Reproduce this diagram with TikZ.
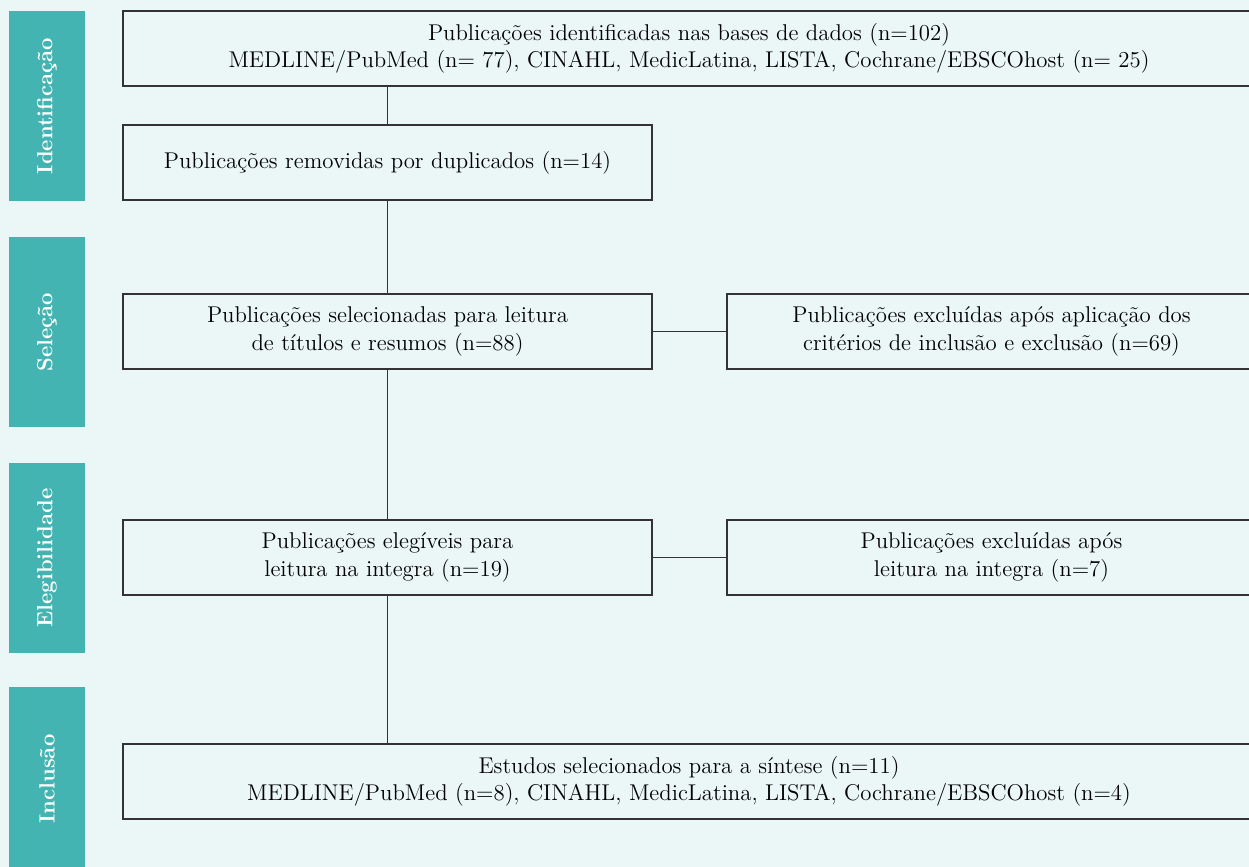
\documentclass[tikz,border=0pt]{standalone}
\usepackage{fontspec}
\definecolor{bgcol}{HTML}{EBF7F7}
\definecolor{barcol}{HTML}{43B4B1}
\definecolor{linecol}{HTML}{333333}
\tikzset{
  box/.style={draw=linecol, line width=0.7pt, align=center, inner sep=0pt,
    minimum height=37.5pt, font=\fontsize{11.4}{13.6}\selectfont},
  narrow/.style={box, minimum width=264.5pt},
  wide/.style={box, minimum width=566pt},
  phase/.style={fill=barcol, text=white, inner sep=0pt, minimum height=38pt,
    rotate=90, font=\bfseries\fontsize{11}{12}\selectfont},
  link/.style={draw=linecol, line width=0.7pt}
}
\begin{document}
\begin{tikzpicture}[x=0.5pt, y=-0.5pt]
  \useasboundingbox (0,0) rectangle (1249,867);
  \clip (0,0) rectangle (1249,867);
  \fill[bgcol] (0,0) rectangle (1249,867);

  % fases
  \node[phase, minimum width=95pt] (ident) at (47,106) {Identificação};
  \node[phase, minimum width=95pt] (selec) at (47,332) {Seleção};
  \node[phase, minimum width=95pt] (eleg) at (47,558) {Elegibilidade};
  \node[phase, minimum width=92pt] (incl) at (47,779) {Inclusão};

  % caixas
  \node[wide] (ident1) at (689,48.5)
    {Publicações identificadas nas bases de dados (n=102)\\
     MEDLINE/PubMed (n= 77), CINAHL, MedicLatina, LISTA, Cochrane/EBSCOhost (n= 25)};
  \node[narrow] (dupl) at (387.5,162.5)
    {Publicações removidas por duplicados (n=14)};
  \node[narrow] (selec1) at (387.5,331.5)
    {Publicações selecionadas para leitura\\ de títulos e resumos (n=88)};
  \node[narrow] (excl1) at (991.5,331.5)
    {Publicações excluídas após aplicação dos\\ critérios de inclusão e exclusão (n=69)};
  \node[narrow] (eleg1) at (387.5,557.5)
    {Publicações elegíveis para\\ leitura na integra (n=19)};
  \node[narrow] (excl2) at (991.5,557.5)
    {Publicações excluídas após\\ leitura na integra (n=7)};
  \node[wide] (incl1) at (689,781.5)
    {Estudos selecionados para a síntese (n=11)\\
     MEDLINE/PubMed (n=8), CINAHL, MedicLatina, LISTA, Cochrane/EBSCOhost (n=4)};

  % ligacoes
  \draw[link] (dupl.north) -- (dupl.north |- ident1.south);
  \draw[link] (dupl.south) -- (selec1.north);
  \draw[link] (selec1.south) -- (eleg1.north);
  \draw[link] (eleg1.south) -- (eleg1.south |- incl1.north);
  \draw[link] (selec1.east) -- (excl1.west);
  \draw[link] (eleg1.east) -- (excl2.west);
\end{tikzpicture}
\end{document}
